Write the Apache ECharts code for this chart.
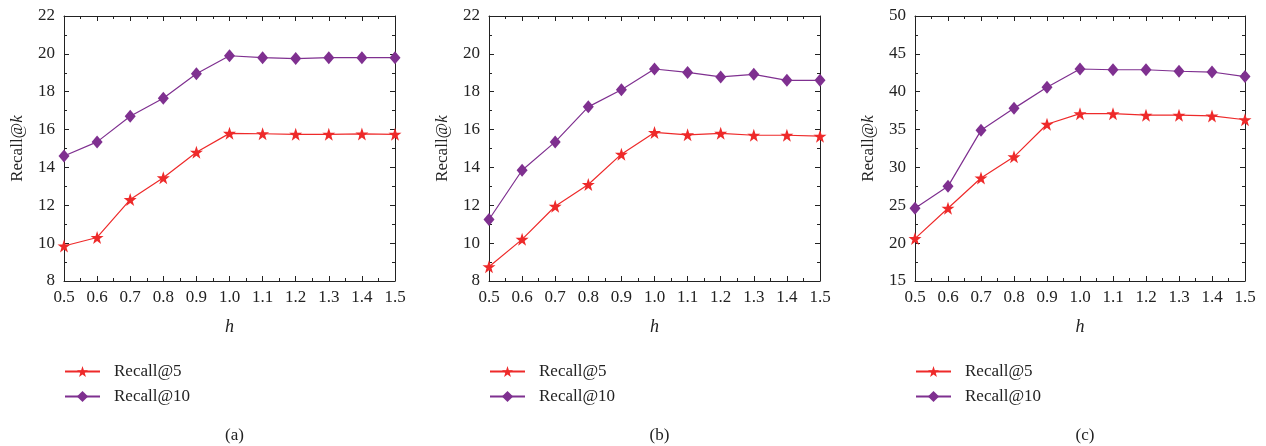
<!DOCTYPE html>
<html>
<head>
<meta charset="utf-8">
<script src="https://cdn.jsdelivr.net/npm/echarts@6/dist/echarts.min.js"></script>
<style>
  html, body { margin: 0; padding: 0; background: #fff; }
  #chart { width: 1266px; height: 446px; }
</style>
</head>
<body>
<div id="chart"></div>
<script>
// h values on the x axis
const hValues = [0.5, 0.6, 0.7, 0.8, 0.9, 1.0, 1.1, 1.2, 1.3, 1.4, 1.5];

// panel (a)
const recall5A = [9.85, 10.3, 12.3, 13.45, 14.8, 15.8, 15.78, 15.75, 15.75, 15.77, 15.75];
const recall10A = [14.6, 15.35, 16.7, 17.65, 18.95, 19.9, 19.8, 19.75, 19.8, 19.8, 19.8];
// panel (b)
const recall5B = [8.75, 10.2, 11.95, 13.1, 14.7, 15.85, 15.72, 15.8, 15.7, 15.7, 15.65];
const recall10B = [11.25, 13.85, 15.35, 17.2, 18.1, 19.2, 19.02, 18.78, 18.92, 18.6, 18.6];
// panel (c)
const recall5C = [20.6, 24.6, 28.6, 31.4, 35.7, 37.1, 37.1, 36.9, 36.9, 36.8, 36.3];
const recall10C = [24.6, 27.5, 34.9, 37.8, 40.6, 43.0, 42.9, 42.9, 42.7, 42.6, 42.0];

const captions = ['(a)', '(b)', '(c)'];
const yRanges = [[8, 22, 2], [8, 22, 2], [15, 50, 5]];

const FONT = '"Liberation Serif", "DejaVu Serif", serif';
const RED = '#ee2a2a';
const PURPLE = '#7f3090';

const panels = [
  { left: 64, width: 331, r5: recall5A, r10: recall10A },
  { left: 489, width: 331, r5: recall5B, r10: recall10B },
  { left: 915, width: 330, r5: recall5C, r10: recall10C }
];

const pairs = arr => hValues.map((h, i) => [h, arr[i]]);

const grid = [], xAxis = [], yAxis = [], series = [], legend = [], title = [];

panels.forEach((p, i) => {
  grid.push({ left: p.left, width: p.width, top: 16, height: 265 });

  const line = { show: true, onZero: false, lineStyle: { color: '#222', width: 1 } };
  const tick = { show: true, inside: true, length: 5, lineStyle: { color: '#222' } };
  const minor = { show: true, splitNumber: 2, length: 3, lineStyle: { color: '#222' } };

  // bottom x axis with labels
  xAxis.push({
    type: 'value', gridIndex: i, min: 0.5, max: 1.5, interval: 0.1,
    axisLine: line, axisTick: tick, minorTick: minor, splitLine: { show: false },
    axisLabel: { color: '#222', fontFamily: FONT, fontSize: 17, margin: 8,
      formatter: v => v.toFixed(1) },
    name: 'h', nameLocation: 'middle', nameGap: 37,
    nameTextStyle: { color: '#222', fontFamily: FONT, fontSize: 18, fontStyle: 'italic' }
  });
  // top frame
  xAxis.push({
    type: 'value', gridIndex: i, position: 'top', min: 0.5, max: 1.5, interval: 0.1,
    axisLine: line, axisTick: tick, minorTick: minor, splitLine: { show: false },
    axisLabel: { show: false }
  });

  const [ymin, ymax, step] = yRanges[i];
  yAxis.push({
    type: 'value', gridIndex: i, min: ymin, max: ymax, interval: step,
    axisLine: line, axisTick: tick, minorTick: minor, splitLine: { show: false },
    axisLabel: { color: '#222', fontFamily: FONT, fontSize: 17, margin: 9 },
    name: 'Recall@{i|k}', nameLocation: 'middle', nameGap: 38, nameRotate: 90,
    nameTextStyle: { color: '#222', fontFamily: FONT, fontSize: 17,
      rich: { i: { fontFamily: FONT, fontSize: 17, fontStyle: 'italic', color: '#222' } } }
  });
  yAxis.push({
    type: 'value', gridIndex: i, position: 'right', min: ymin, max: ymax, interval: step,
    axisLine: line, axisTick: tick, minorTick: minor, splitLine: { show: false },
    axisLabel: { show: false }
  });

  series.push({
    name: 'Recall@5', type: 'line', xAxisIndex: i * 2, yAxisIndex: i * 2,
    data: pairs(p.r5), symbol: 'path://M50,0 L61.8,35.1 L98.1,35.1 L68.8,56.9 L79.4,91.9 L50,70.5 L20.6,91.9 L31.2,56.9 L1.9,35.1 L38.2,35.1 Z',
    symbolSize: 13, itemStyle: { color: RED }, lineStyle: { color: RED, width: 1.2 }, z: 3
  });
  series.push({
    name: 'Recall@10', type: 'line', xAxisIndex: i * 2, yAxisIndex: i * 2,
    data: pairs(p.r10), symbol: 'diamond', symbolSize: [11, 13],
    itemStyle: { color: PURPLE }, lineStyle: { color: PURPLE, width: 1.2 }, z: 2
  });

  legend.push({
    left: p.left, top: 363, padding: 0, orient: 'vertical', itemWidth: 35, itemHeight: 14, itemGap: 8,
    data: ['Recall@5', 'Recall@10'],
    textStyle: { color: '#222', fontFamily: FONT, fontSize: 17, padding: [0, 0, 0, 9] }
  });

  title.push({
    text: captions[i], left: p.left + p.width / 2, top: 422, textAlign: 'center',
    textStyle: { color: '#222', fontFamily: FONT, fontSize: 17, fontWeight: 'normal' }
  });
});

const chart = echarts.init(document.getElementById('chart'));
chart.setOption({
  animation: false,
  backgroundColor: '#fff',
  title, grid, xAxis, yAxis, legend, series
});
</script>
</body>
</html>
